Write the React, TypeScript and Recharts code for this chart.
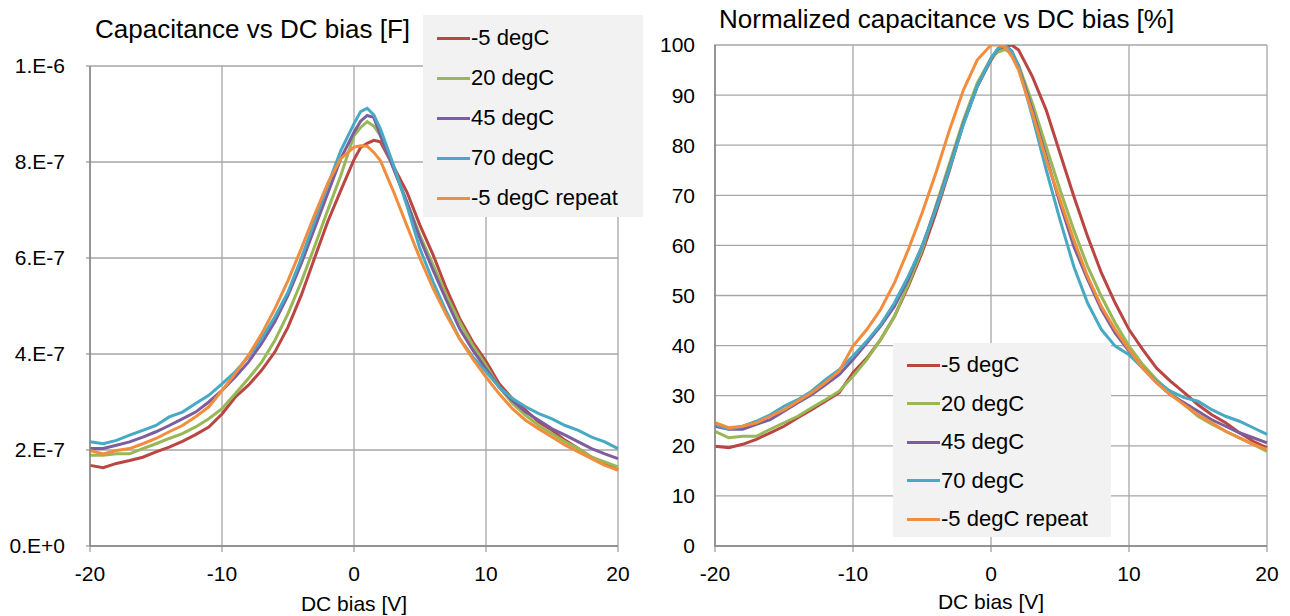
import React from 'react';
import { LineChart, Line, XAxis, YAxis, CartesianGrid, Legend } from 'recharts';

// DC bias grid [V]
const biasV = [-20, -19, -18, -17, -16, -15, -14, -13, -12, -11, -10, -9, -8, -7, -6, -5, -4, -3, -2, -1, 0, 0.5, 1, 1.5, 2, 3, 4, 5, 6, 7, 8, 9, 10, 11, 12, 13, 14, 15, 16, 17, 18, 19, 20];

// capacitance, units of 1e-7 F
const capM5 = [1.68, 1.63, 1.72, 1.78, 1.85, 1.96, 2.06, 2.18, 2.32, 2.48, 2.75, 3.1, 3.35, 3.66, 4.04, 4.56, 5.22, 5.99, 6.75, 7.41, 8.05, 8.3, 8.39, 8.45, 8.42, 7.9, 7.38, 6.68, 6.06, 5.36, 4.74, 4.25, 3.85, 3.38, 3.07, 2.83, 2.58, 2.41, 2.2, 2.03, 1.85, 1.72, 1.58];
const cap20 = [1.89, 1.89, 1.92, 1.92, 2.03, 2.13, 2.24, 2.34, 2.48, 2.65, 2.86, 3.17, 3.49, 3.83, 4.28, 4.84, 5.5, 6.23, 6.99, 7.72, 8.55, 8.72, 8.84, 8.75, 8.55, 7.86, 7.17, 6.47, 5.85, 5.22, 4.67, 4.18, 3.76, 3.31, 2.97, 2.72, 2.51, 2.34, 2.17, 2.03, 1.85, 1.75, 1.65];
const cap45 = [2.03, 2.03, 2.1, 2.17, 2.27, 2.38, 2.51, 2.65, 2.79, 3.0, 3.24, 3.52, 3.83, 4.22, 4.67, 5.22, 5.88, 6.61, 7.34, 8.07, 8.62, 8.85, 8.97, 8.93, 8.56, 7.86, 7.17, 6.4, 5.74, 5.12, 4.53, 4.08, 3.69, 3.31, 3.03, 2.79, 2.62, 2.44, 2.31, 2.17, 2.03, 1.92, 1.82];
const cap70 = [2.17, 2.13, 2.2, 2.31, 2.41, 2.51, 2.69, 2.79, 2.97, 3.14, 3.38, 3.63, 3.94, 4.32, 4.77, 5.29, 5.99, 6.75, 7.51, 8.24, 8.8, 9.05, 9.12, 8.98, 8.69, 7.93, 7.1, 6.19, 5.5, 4.88, 4.32, 3.94, 3.63, 3.31, 3.07, 2.9, 2.76, 2.65, 2.51, 2.41, 2.27, 2.17, 2.03];
const capM5r = [1.99, 1.92, 1.99, 2.03, 2.13, 2.24, 2.38, 2.51, 2.69, 2.9, 3.24, 3.59, 3.97, 4.42, 4.94, 5.53, 6.19, 6.89, 7.55, 8.07, 8.31, 8.34, 8.33, 8.2, 8.03, 7.38, 6.68, 5.99, 5.36, 4.81, 4.32, 3.9, 3.52, 3.17, 2.86, 2.62, 2.44, 2.27, 2.1, 1.96, 1.82, 1.68, 1.58];

// normalized capacitance [%]
const normM5 = [19.9, 19.6, 20.3, 21.3, 22.6, 23.9, 25.6, 27.2, 28.9, 30.6, 34.6, 37.5, 41.2, 45.8, 51.8, 58.5, 66.4, 75.1, 84.4, 91.7, 97, 99, 99.7, 100, 99, 93.7, 87, 78.4, 69.8, 61.8, 54.5, 48.5, 43.2, 39.2, 35.5, 32.9, 30.6, 28.2, 26.2, 24.6, 22.6, 20.9, 19.6];
const norm20 = [22.9, 21.6, 21.9, 21.9, 23.3, 24.6, 25.9, 27.6, 29.2, 30.9, 33.9, 37.2, 41.2, 45.8, 52.2, 59.1, 67.8, 76.4, 85, 92.4, 97.3, 98.6, 99.1, 98.5, 96, 88.4, 79.7, 71.1, 63.1, 55.8, 49.8, 44.5, 39.9, 36.2, 33.2, 30.6, 28.2, 25.9, 24.3, 22.9, 21.6, 20.3, 18.9];
const norm45 = [23.9, 23.3, 23.3, 24.3, 25.2, 26.9, 28.6, 30.2, 32.2, 34.2, 37.2, 40.5, 43.9, 47.8, 53.2, 59.8, 67.4, 75.7, 84.4, 91.7, 97.3, 99.2, 100, 98.8, 95.7, 87, 77.7, 68.4, 59.8, 53.2, 47.2, 42.5, 38.9, 35.5, 32.6, 30.2, 28.6, 26.9, 25.2, 23.9, 22.6, 21.6, 20.6];
const norm70 = [24.3, 23.3, 23.9, 24.9, 26.2, 27.9, 29.2, 30.9, 33.2, 35.2, 37.9, 40.9, 44.2, 48.5, 53.8, 59.8, 67.1, 75.4, 84.1, 91.7, 97.3, 99.3, 100, 98.7, 95.7, 85.7, 75.1, 65.1, 55.8, 48.5, 43.2, 39.9, 38.2, 35.5, 32.9, 30.9, 29.6, 28.9, 27.2, 25.9, 24.9, 23.6, 22.3];
const normM5r = [24.6, 23.6, 23.9, 24.6, 25.9, 27.2, 28.9, 30.6, 32.6, 34.9, 39.9, 43.2, 47.2, 52.5, 59.1, 66.4, 74.4, 83.1, 91, 97, 100, 100, 99.7, 97.8, 95, 86.4, 77.1, 69.1, 61.1, 53.8, 47.8, 43.2, 39.2, 35.5, 32.6, 30.2, 28.2, 26.2, 24.6, 22.9, 21.6, 20.3, 19.3];

const seriesNames = ['-5 degC', '20 degC', '45 degC', '70 degC', '-5 degC repeat'];
const seriesKeys = ['m5', 't20', 't45', 't70', 'm5r'];
const COLORS = ['#BA4643', '#97B855', '#7C5D9E', '#47A9C4', '#F38D3E'];

const xTicks = [-20, -10, 0, 10, 20];
const capTicks = [0, 2, 4, 6, 8, 10];
const capTickLabels = ['0.E+0', '2.E-7', '4.E-7', '6.E-7', '8.E-7', '1.E-6'];
const normTicks = [0, 10, 20, 30, 40, 50, 60, 70, 80, 90, 100];

const FONT = '"Liberation Sans", Arial, sans-serif';
const GRID = '#A6A6A6';
const AXIS = '#868686';

const buildRows = (cols: number[][]) =>
    biasV.map((v, i) => {
        const row: { [k: string]: number } = { v };
        seriesKeys.forEach((k, j) => { row[k] = cols[j][i]; });
        return row;
    });

const capRows = buildRows([capM5, cap20, cap45, cap70, capM5r]);
const normRows = buildRows([normM5, norm20, norm45, norm70, normM5r]);

const LegendBox = (props: any) => {
    const { payload, rowGap } = props;
    // keep the series order, not the alphabetical one
    const items = [...(payload || [])].sort((a: any, b: any) => seriesNames.indexOf(a.value) - seriesNames.indexOf(b.value));
    return (
        <div style={{ background: '#F2F2F2', width: '100%', height: '100%', boxSizing: 'border-box', paddingTop: 3, fontFamily: FONT }}>
            {items.map((p: any, i: number) => (
                <div key={i} style={{ display: 'flex', alignItems: 'center', height: rowGap, paddingLeft: 14 }}>
                    <div style={{ width: 33, height: 3, background: p.color, marginRight: 1 }} />
                    <span style={{ fontSize: 22, color: '#000', whiteSpace: 'nowrap' }}>{p.value}</span>
                </div>
            ))}
        </div>
    );
};

interface PanelProps {
    rows: { [k: string]: number }[];
    left: number;
    yWidth: number;
    yTicks: number[];
    yMax: number;
    yFmt?: (v: number) => string;
    yTickSize: number;
    yTickMargin: number;
    margin: { top: number; right: number; bottom: number; left: number };
    legendPos: { left: number; top: number; width: number; height: number; rowGap: number };
}

const Panel: React.FC<PanelProps> = ({ rows, left, yWidth, yTicks, yMax, yFmt, yTickSize, yTickMargin, margin, legendPos }) => (
    <div style={{ position: 'absolute', left, top: 0 }}>
        <LineChart width={645} height={616} data={rows} margin={margin}>
            <CartesianGrid stroke={GRID} strokeWidth={1.3} horizontalValues={yTicks} verticalValues={xTicks} />
            <XAxis
                type="number"
                dataKey="v"
                domain={[-20, 20]}
                ticks={xTicks}
                height={60}
                axisLine={{ stroke: AXIS, strokeWidth: 1.5 }}
                tickLine={{ stroke: AXIS }}
                tickSize={6}
                tickMargin={14}
                tick={{ fill: '#000', fontSize: 21, fontFamily: FONT }}
            />
            <YAxis
                type="number"
                domain={[0, yMax]}
                ticks={yTicks}
                width={yWidth}
                allowDataOverflow
                axisLine={{ stroke: AXIS, strokeWidth: 1.5 }}
                tickLine={{ stroke: yTickSize > 0 ? AXIS : 'transparent' }}
                tickSize={yTickSize}
                tickMargin={yTickMargin}
                tickFormatter={yFmt}
                tick={{ fill: '#000', fontSize: 21, fontFamily: FONT }}
            />
            <Legend
                layout="vertical"
                align="center"
                verticalAlign="middle"
                wrapperStyle={{ left: legendPos.left, top: legendPos.top, width: legendPos.width, height: legendPos.height }}
                content={(p: any) => <LegendBox {...p} rowGap={legendPos.rowGap} />}
            />
            {seriesKeys.map((k, i) => (
                <Line
                    key={k}
                    type="linear"
                    dataKey={k}
                    name={seriesNames[i]}
                    stroke={COLORS[i]}
                    strokeWidth={3}
                    dot={false}
                    isAnimationActive={false}
                />
            ))}
        </LineChart>
    </div>
);

const textStyle: React.CSSProperties = { position: 'absolute', fontFamily: FONT, color: '#000', whiteSpace: 'nowrap' };

export default function App() {
    return (
        <div style={{ position: 'absolute', left: 0, top: 0, width: 1290, height: 616, background: '#fff', overflow: 'hidden' }}>
            <Panel
                rows={capRows}
                left={0}
                yWidth={80}
                yTicks={capTicks}
                yMax={10}
                yFmt={(v: number) => capTickLabels[capTicks.indexOf(v)] ?? ''}
                yTickSize={4}
                yTickMargin={21}
                margin={{ top: 66, right: 27, bottom: 10, left: 10 }}
                legendPos={{ left: 423, top: 15, width: 220, height: 202, rowGap: 40 }}
            />
            <Panel
                rows={normRows}
                left={645}
                yWidth={60}
                yTicks={normTicks}
                yMax={100}
                yTickSize={1}
                yTickMargin={19}
                margin={{ top: 45, right: 23, bottom: 10, left: 10 }}
                legendPos={{ left: 248, top: 343, width: 218, height: 194, rowGap: 38.5 }}
            />
            <div style={{ ...textStyle, left: 95, top: 14, fontSize: 26 }}>Capacitance vs DC bias [F]</div>
            <div style={{ ...textStyle, left: 719, top: 4, fontSize: 26 }}>Normalized capacitance vs DC bias [%]</div>
            <div style={{ ...textStyle, left: 254, width: 200, textAlign: 'center', top: 592, fontSize: 21 }}>DC bias [V]</div>
            <div style={{ ...textStyle, left: 891, width: 200, textAlign: 'center', top: 590, fontSize: 21 }}>DC bias [V]</div>
        </div>
    );
}
